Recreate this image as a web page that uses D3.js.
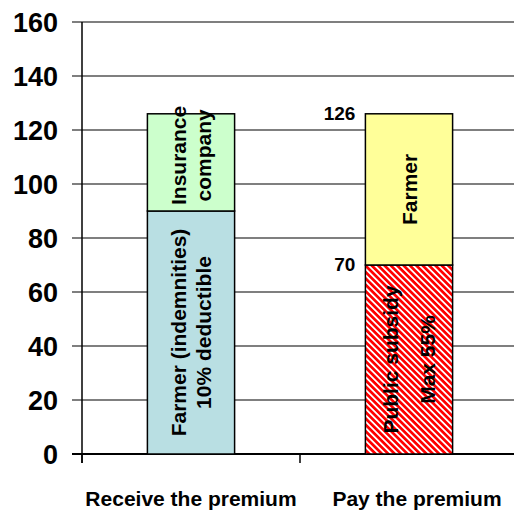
<!DOCTYPE html>
<html>
<head>
<meta charset="utf-8">
<script src="https://cdn.jsdelivr.net/npm/d3@7"></script>
<style>
  html, body { margin: 0; padding: 0; background: #fff; }
  svg { display: block; font-family: "Liberation Sans", Arial, sans-serif; }
</style>
</head>
<body>
<svg id="chart"></svg>
<script>
const categories = ["Receive the premium", "Pay the premium"];
const yTicks = [0, 20, 40, 60, 80, 100, 120, 140, 160];

// stacked segments, bottom to top
const receiveSegments = [
    { value: 90, lines: ["Farmer (indemnities)", "10% deductible"], fill: "#b9dfe3" },
    { value: 36, lines: ["Insurance", "company"], fill: "#ccffcc" }
];
const paySegments = [
    { value: 70, lines: ["Public subsidy", "Max 55%"], fill: "url(#hatch)" },
    { value: 56, lines: ["Farmer"], fill: "#ffff99" }
];
const valueLabels = [126, 70];

const width = 514, height = 513;
const svg = d3.select("#chart").attr("width", width).attr("height", height);

const y = d3.scaleLinear().domain([0, 160]).range([454, 22]);
const x = d3.scaleBand().domain(categories).range([82, 518])
    .paddingInner(0.6).paddingOuter(0.3);

// hatch pattern for public subsidy
const pat = svg.append("defs").append("pattern")
    .attr("id", "hatch")
    .attr("patternUnits", "userSpaceOnUse")
    .attr("width", 4.5).attr("height", 4.5)
    .attr("patternTransform", "rotate(-45)");
pat.append("rect").attr("width", 4.5).attr("height", 4.5).attr("fill", "#ff0000");
pat.append("rect").attr("width", 1.8).attr("height", 4.5).attr("fill", "#ffffff");

// gridlines + y ticks
svg.append("g").selectAll("line").data(yTicks).join("line")
    .attr("x1", 72).attr("x2", width)
    .attr("y1", d => y(d)).attr("y2", d => y(d))
    .attr("stroke", "#000").attr("stroke-width", 1.2);

svg.append("g").selectAll("text").data(yTicks).join("text")
    .attr("x", 58).attr("y", d => y(d) + 9.5)
    .attr("text-anchor", "end")
    .attr("font-size", "27px").attr("font-weight", "bold")
    .text(d => d);

// y axis line
svg.append("line")
    .attr("x1", 82).attr("x2", 82).attr("y1", y(160)).attr("y2", 463)
    .attr("stroke", "#000").attr("stroke-width", 1.5);

// x axis ticks at band boundaries
const bounds = [0, 1, 2].map(i => x.range()[0] + i * x.step());
svg.append("g").selectAll("line").data(bounds).join("line")
    .attr("x1", d => d).attr("x2", d => d)
    .attr("y1", y(0)).attr("y2", 463)
    .attr("stroke", "#000").attr("stroke-width", 1.5);
svg.append("line")
    .attr("x1", 72).attr("x2", width).attr("y1", y(0)).attr("y2", y(0))
    .attr("stroke", "#000").attr("stroke-width", 1.8);

// bars
function drawStack(cat, segments, labelShift, nudge) {
    let base = 0;
    const bx = x(cat), bw = x.bandwidth(), cx = bx + bw / 2;
    segments.forEach((seg, k) => {
        const top = base + seg.value;
        svg.append("rect")
            .attr("x", bx).attr("y", y(top))
            .attr("width", bw).attr("height", y(base) - y(top))
            .attr("fill", seg.fill)
            .attr("stroke", "#000").attr("stroke-width", 1.5);
        const cy = (y(base) + y(top)) / 2 - (nudge[k] || 0);
        const gap = seg.lines.length > 1 ? labelShift : 0;
        const t = svg.append("text")
            .attr("transform", `translate(${cx},${cy}) rotate(-90)`)
            .attr("text-anchor", "middle")
            .attr("font-size", "21px").attr("font-weight", "bold");
        seg.lines.forEach((ln, i) => {
            t.append("tspan")
                .attr("x", 0)
                .attr("y", (i - (seg.lines.length - 1) / 2) * gap + 7.5)
                .text(ln);
        });
        base = top;
    });
}
drawStack(categories[0], receiveSegments, 25, [0, 7]);
drawStack(categories[1], paySegments, 37, [0, 0]);

// value labels next to the second bar
svg.append("g").selectAll("text").data(valueLabels).join("text")
    .attr("x", x(categories[1]) - 10)
    .attr("y", d => y(d) + 6)
    .attr("text-anchor", "end")
    .attr("font-size", "19px").attr("font-weight", "bold")
    .text(d => d);

// category labels
svg.append("g").selectAll("text").data(categories).join("text")
    .attr("x", (d, i) => x(d) + x.bandwidth() / 2 + i * 8)
    .attr("y", 506)
    .attr("text-anchor", "middle")
    .attr("font-size", "21px").attr("font-weight", "bold")
    .text(d => d);
</script>
</body>
</html>
